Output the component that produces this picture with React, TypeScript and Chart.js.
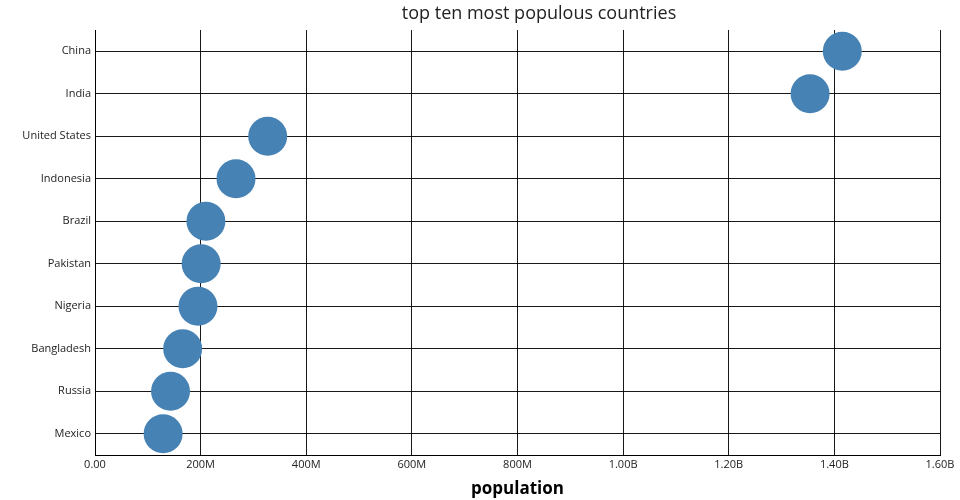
import React, { useEffect, useRef } from "react";
import { Chart, registerables } from "chart.js";

Chart.register(...registerables);

const countries = [
  "China",
  "India",
  "United States",
  "Indonesia",
  "Brazil",
  "Pakistan",
  "Nigeria",
  "Bangladesh",
  "Russia",
  "Mexico",
];

const population = [
  1415e6, 1354e6, 327e6, 267e6, 210e6, 201e6, 195e6, 166e6, 143e6, 129e6,
];

const xTicks = [0, 2e8, 4e8, 6e8, 8e8, 1e9, 1.2e9, 1.4e9, 1.6e9];

const chartTitle = "top ten most populous countries";
const xTitle = "population";

const FONT = "'Open Sans', 'Noto Sans', sans-serif";

function formatTick(v: number): string {
  if (v === 0) return "0.00";
  if (v < 1e9) return Math.round(v / 1e6) + "M";
  return (v / 1e9).toFixed(2) + "B";
}

const titlePlugin = {
  id: "customTitle",
  afterDraw(chart: any) {
    const ctx = chart.ctx;
    ctx.save();
    ctx.font = `18px ${FONT}`;
    ctx.fillStyle = "#222";
    ctx.textAlign = "center";
    ctx.textBaseline = "middle";
    ctx.fillText(chartTitle, 539, 14);
    ctx.restore();
  },
};

export default function App() {
  const ref = useRef<HTMLCanvasElement | null>(null);

  useEffect(() => {
    if (!ref.current) return;
    const chart = new Chart(ref.current, {
      type: "scatter",
      data: {
        labels: countries,
        datasets: [
          {
            label: "population",
            data: countries.map((c, i) => ({ x: population[i], y: c })) as any,
            backgroundColor: "#4682b4",
            borderWidth: 0,
            pointRadius: 19.5,
            pointHoverRadius: 19.5,
          },
        ],
      },
      options: {
        animation: false,
        responsive: false,
        layout: { padding: { top: 30, right: 20, left: 0, bottom: 0 } },
        plugins: {
          legend: { display: false },
          title: { display: false },
          tooltip: { enabled: false },
        },
        scales: {
          x: {
            type: "linear",
            min: 0,
            max: 1.6e9,
            afterBuildTicks: (scale: any) => {
              scale.ticks = xTicks.map((v) => ({ value: v }));
            },
            afterFit: (scale: any) => {
              scale.height = 45;
            },
            ticks: {
              callback: (v: any) => formatTick(Number(v)),
              font: { family: FONT, size: 11 },
              color: "#222",
              padding: 3,
              maxRotation: 0,
            },
            grid: {
              color: "rgba(0,0,0,0.9)",
              lineWidth: 1,
              drawTicks: false,
            },
            border: { display: true, color: "#000", width: 1 },
            title: {
              display: true,
              text: xTitle,
              font: { family: FONT, size: 17, weight: "bold" },
              color: "#000",
              padding: { top: 1, bottom: 1 },
            },
          },
          y: {
            type: "category",
            labels: countries,
            offset: true,
            afterFit: (scale: any) => {
              scale.width = 95;
            },
            ticks: {
              font: { family: FONT, size: 11 },
              color: "#222",
              padding: 4,
            },
            grid: {
              color: "rgba(0,0,0,0.9)",
              lineWidth: 1,
              drawTicks: false,
              offset: false,
            },
            border: { display: true, color: "#000", width: 1 },
          },
        },
      },
      plugins: [titlePlugin],
    } as any);
    return () => chart.destroy();
  }, []);

  return (
    <div style={{ position: "absolute", left: 0, top: 0, width: 960, height: 500, background: "#fff" }}>
      <canvas ref={ref} width={960} height={500} />
    </div>
  );
}
